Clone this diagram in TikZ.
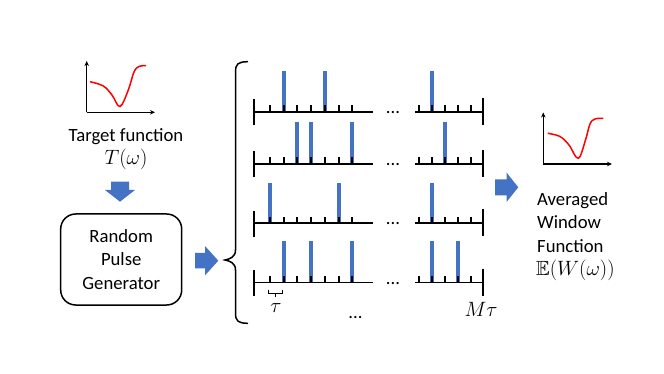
\documentclass[tikz,border=0pt]{standalone}
\usepackage{amssymb}
\usepackage{fontspec}
\setmainfont{Carlito}
\usetikzlibrary{arrows.meta}
\definecolor{pblue}{HTML}{4472C4}
\begin{document}
\begin{tikzpicture}[x=1pt,y=-1pt,
  txt/.style={font=\fontsize{18.7}{23.3}\selectfont, inner sep=0pt},
  mtxt/.style={font=\fontsize{20.5}{24}\selectfont, inner sep=0pt},
  axisline/.style={line width=1.9pt, black},
  tickline/.style={line width=2pt, black},
  pulse/.style={line width=4pt, pblue},
  plotaxis/.style={line width=1.3pt, -{Stealth[length=5pt,width=4.5pt]}},
  redcurve/.style={line width=1.5pt, red},
  blockarrow/.style={fill=pblue, draw=none},
  boxstyle/.style={draw, line width=1.5pt, rounded corners=15pt}]
\path[use as bounding box] (0,0) rectangle (664,374);

% ---- left plot (target) ----
\coordinate (lo) at (86.7,112.3);
\draw[plotaxis] (lo) -- (86.7,61);
\draw[plotaxis] (lo) -- (155,112.3);
\draw[redcurve] plot[smooth, tension=0.6] coordinates
  {(90,81.7) (103.3,86) (112,95) (120,106.5) (128.3,90) (134,72) (139,66.5) (146,65.7)};

\node[txt] (tf) at (126,136.5) {Target function};
\node[mtxt] (tw) at (126,159) {$T(\omega)$};

% down arrow
\fill[blockarrow] (111,181.7) -- (129,181.7) -- (129,190) -- (135,190) -- (120,201.7)
  -- (105,190) -- (111,190) -- cycle;

% generator box
\node[boxstyle, minimum width=121pt, minimum height=91pt, inner sep=0pt] (gen) at (121.2,259.5) {};
\node[txt, align=center] (gentxt) at (gen.center) {Random\\Pulse\\Generator};

% right arrow 1
\fill[blockarrow] (195,253) -- (205,253) -- (205,246) -- (218.3,260.7) -- (205,275.4)
  -- (205,268.4) -- (195,268.4) -- cycle;

% big brace
\draw[line width=1.5pt] (248,61.7) .. controls (238,61.7) and (235.5,64) .. (235.5,72)
  -- (235.5,250) .. controls (235.5,257) and (230,259) .. (225,260)
  .. controls (230,261) and (235.5,263) .. (235.5,270)
  -- (235.5,313) .. controls (235.5,321) and (238,323.3) .. (248,323.3);

% ---- pulse rows ----
\foreach \Y/\top/\pa/\pb in {112/71.5/{1,4}/{1}, 164/121.7/{2,3,6}/{2}, 223.3/183/{0,5}/{1}, 282.5/241/{1,3,6}/{1,3}} {
  \foreach \k in \pa { \draw[pulse] ({270+13.7*\k},\top) -- ({270+13.7*\k},\Y); }
  \foreach \k in \pb { \draw[pulse] ({419.3+12.8*\k},\top) -- ({419.3+12.8*\k},\Y); }
  \draw[axisline] (254,\Y) -- (373,\Y);
  \draw[axisline] (254,\Y-12.5) -- (254,\Y+13.5);
  \foreach \k in {0,...,6} { \draw[tickline] ({270+13.7*\k},\Y) -- ({270+13.7*\k},\Y-6.5); }
  \draw[axisline] (415,\Y) -- (483,\Y);
  \draw[axisline] (483,\Y-14) -- (483,\Y+13);
  \foreach \k in {0,...,4} { \draw[tickline] ({419.3+12.8*\k},\Y) -- ({419.3+12.8*\k},\Y-6.5); }
  \node[txt, anchor=base] at (393,\Y+1.5) {...};
}

% tau bracket
\coordinate (ta) at (268.5,289.5);
\coordinate (tb) at (282.7,289.5);
\draw[line width=1.3pt] (ta) -- (268.5,293.3) -- (282.7,293.3) -- (tb);
\draw[line width=1.3pt] (275.7,293.3) -- (275.7,297);
\node[mtxt] (tau) at (276,308) {$\tau$};
\node[mtxt] (mtau) at (481,309) {$M\tau$};
\node[txt, anchor=base] (bdots) at (355.5,318) {...};

% right arrow 2
\fill[blockarrow] (495,179.3) -- (506.5,179.3) -- (506.5,172.5) -- (518.3,187.3) -- (506.5,202)
  -- (506.5,195.3) -- (495,195.3) -- cycle;

% ---- right plot (averaged) ----
\coordinate (ro) at (543.3,164);
\draw[plotaxis] (ro) -- (543.3,112.5);
\draw[plotaxis] (ro) -- (612,164);
\draw[redcurve] plot[smooth, tension=0.6] coordinates
  {(547.7,133.3) (560,136.5) (569,145) (578.3,158.3) (585.5,140) (590,124) (595,119) (603.3,118.3)};

\node[txt, align=left, anchor=north west] (avg) at (537,192.5)
  {Averaged\\Window\\Function\\{\fontsize{20.5}{24}\selectfont\hspace*{-1pt}$\mathbb{E}(W(\omega))$}};
\end{tikzpicture}
\end{document}
